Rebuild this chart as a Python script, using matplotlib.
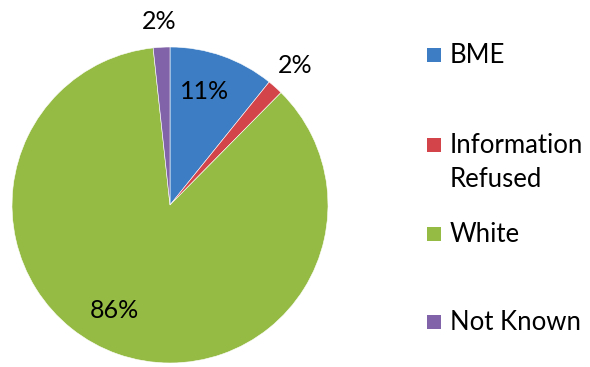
import matplotlib.pyplot as plt
from matplotlib.patches import Rectangle

# ethnicity breakdown (percent)
categories = ['BME', 'Information\nRefused', 'White', 'Not Known']
shares = [10.8, 1.6, 85.9, 1.7]
colors = ['#3C7DC4', '#D2434A', '#95BB45', '#8063A8']

# where each percentage label sits (data units, pie radius = 1)
label_pos = [(0.22, 0.72), (0.79, 0.88), (-0.35, -0.67), (-0.07, 1.16)]

plt.rcParams['font.family'] = ['Lato', 'DejaVu Sans']

W, H = 590, 367
fig = plt.figure(figsize=(W / 100, H / 100), dpi=100)

# pie centre at (170, 205) px from top-left, radius 158 px
cx, cy, r = 170, H - 205, 158
ax = fig.add_axes([(cx - r) / W, (cy - r) / H, 2 * r / W, 2 * r / H])

wedges, texts, autotexts = ax.pie(
    shares, colors=colors, startangle=90, counterclock=False,
    autopct=lambda p: f'{p:.0f}%', radius=1,
    wedgeprops=dict(edgecolor='white', linewidth=0.4),
    textprops=dict(fontsize=18, color='black'))
for t, pos in zip(autotexts, label_pos):
    t.set_position(pos)
    t.set_clip_on(False)
ax.set_xlim(-1, 1)
ax.set_ylim(-1, 1)
ax.set_aspect('equal')
ax.axis('off')

# legend drawn by hand: square beside first line, text placed by its top
first_baselines = [63, 153, 242, 330]
for name, col, base in zip(categories, colors, first_baselines):
    y = H - base
    fig.patches.append(Rectangle((427 / W, (y + 1) / H), 14 / W, 14 / H,
                                 transform=fig.transFigure, facecolor=col,
                                 edgecolor='none'))
    fig.text(450 / W, (y + 20) / H, name, fontsize=18.5, va='top',
             ha='left', linespacing=1.45)

fig.savefig('out.png', dpi=100)
